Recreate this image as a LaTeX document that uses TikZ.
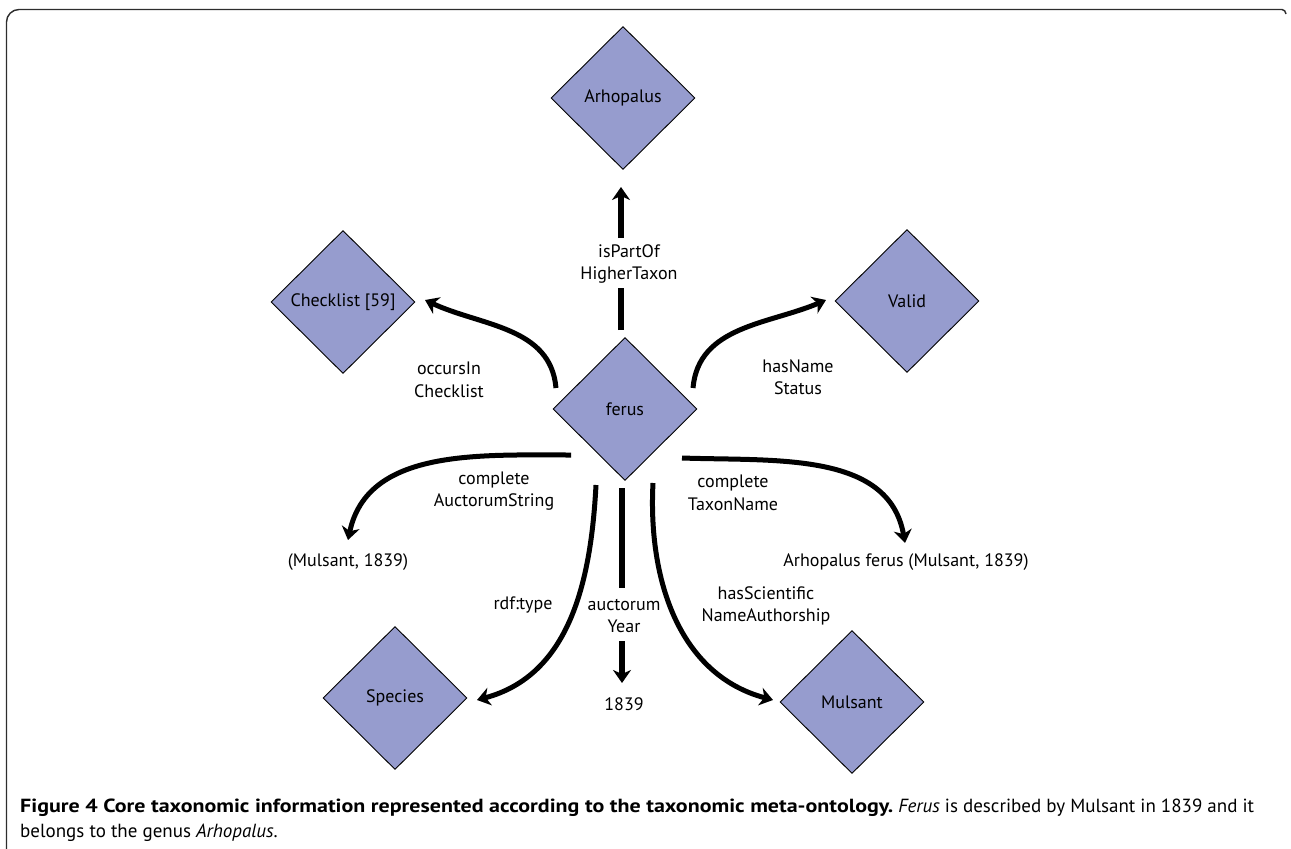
\documentclass[tikz,border=0pt]{standalone}
\usepackage{graphicx}
\usepackage{fontspec}
\setmainfont{PT Sans}
\newfontfamily\capbold{PT Sans Bold}
\usetikzlibrary{shapes.geometric,arrows.meta}
\definecolor{nodefill}{RGB}{150,156,206}
\definecolor{framegray}{RGB}{45,45,45}
\tikzset{
  concept/.style={shape=diamond, draw=black, line width=0.9pt, fill=nodefill,
    minimum width=144pt, minimum height=143pt, inner sep=0pt, font=\fontsize{18}{21}\selectfont},
  literal/.style={font=\fontsize{18}{21}\selectfont, inner sep=0pt},
  rel/.style={font=\fontsize{18}{22.5}\selectfont, align=center, inner sep=0pt},
  link/.style={line width=5pt, -{Stealth[length=13pt,width=18pt,inset=4pt]}},
  straightlink/.style={line width=6.5pt, -{Stealth[length=13pt,width=18pt,inset=4pt]}},
  plainlink/.style={line width=6.5pt},
  captext/.style={anchor=base west, inner sep=0pt, font=\fontsize{19}{23}\selectfont}
}
\begin{document}
\begin{tikzpicture}[x=1pt,y=-1pt]
\useasboundingbox (0,0) rectangle (1291,849);
% outer frame
\draw[framegray, line width=1.4pt] (6.5,849) -- (6.5,22) arc[start angle=180,end angle=270,radius=12.5] -- (1282,9.5)
  to[out=0,in=100] (1286,14);

% concepts
\node[concept] (arhopalus) at (623,98) {Arhopalus};
\node[concept] (ferus) at (625,409) {ferus};
\node[concept] (checklist) at (343,302) {Checklist [59]};
\node[concept] (valid) at (907,301) {Valid};
\node[concept] (species) at (395,698) {Species};
\node[concept] (mulsant) at (852,702) {Mulsant};

% literal values
\node[literal] (auctstr) at (348,562) {(Mulsant, 1839)};
\node[literal] (taxname) at (906,562) {Arhopalus ferus (Mulsant, 1839)};
\node[literal] (year) at (624,704) {1839};

% relation labels
\node[rel] (lpart) at (629,264) {isPartOf\\HigherTaxon};
\node[rel] (locc) at (449,380) {occursIn\\Checklist};
\node[rel] (lstat) at (798,377) {hasName\\Status};
\node[rel] (lauct) at (494,491) {complete\\AuctorumString};
\node[rel] (ltax) at (733,493) {complete\\TaxonName};
\node[rel] (ltype) at (523,605) {rdf:type};
\node[rel] (lyear) at (624,616) {auctorum\\Year};
\node[rel] (lauth) at (766,606) {hasScientific\\NameAuthorship};

% anchor points of the connectors
\coordinate (partA) at (621,330);
\coordinate (partB) at (621,288);
\coordinate (partC) at (621,238);
\coordinate (partD) at (621,187);
\coordinate (occA) at (556,388);
\coordinate (occB) at (425,300);
\coordinate (statA) at (693,388);
\coordinate (statB) at (826,300);
\coordinate (auA) at (571,455);
\coordinate (auB) at (348,540);
\coordinate (typA) at (596,485);
\coordinate (typB) at (477,700);
\coordinate (yrA) at (622,488);
\coordinate (yrB) at (622,588);
\coordinate (yrC) at (622,641);
\coordinate (yrD) at (622,683);
\coordinate (txA) at (682,458);
\coordinate (txB) at (905,543);
\coordinate (ahA) at (653,483);
\coordinate (ahB) at (773,700);

% connectors
\draw[plainlink] (partA) -- (partB);
\draw[straightlink] (partC) -- (partD);
\draw[link] (occA) to[out=95,in=-25] (occB);
\draw[link] (statA) to[out=85,in=203] (statB);
\draw[link] (auA) to[out=180,in=78] (auB);
\draw[link] (typA) to[out=-93,in=15] (typB);
\draw[plainlink] (yrA) -- (yrB);
\draw[straightlink] (yrC) -- (yrD);
\draw[link] (txA) to[out=-2,in=100] (txB);
\draw[link] (ahA) to[out=-93,in=165] (ahB);

% caption
\node[captext] (cap1) at (20,812)
  {\resizebox{873pt}{\height}{\capbold Figure 4 Core taxonomic information represented according to the taxonomic meta-ontology.} \textit{Ferus} is described by Mulsant in 1839 and it};
\node[captext] (cap2) at (20,837)
  {belongs to the genus \textit{Arhopalus}.};
\end{tikzpicture}
\end{document}
